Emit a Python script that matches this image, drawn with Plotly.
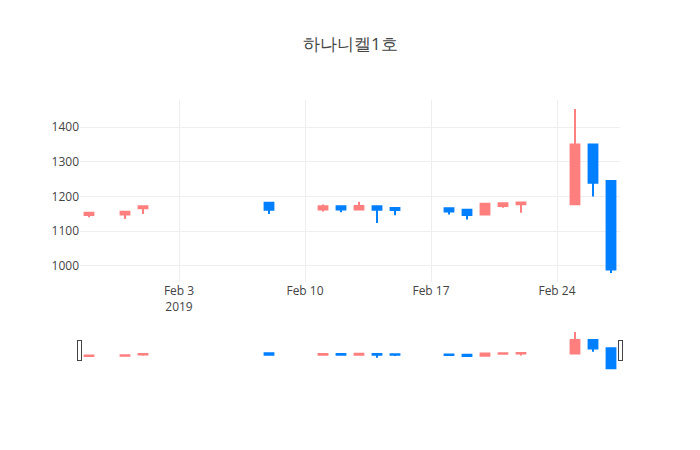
import plotly.graph_objects as go

dates = ["2019-01-29", "2019-01-31", "2019-02-01", "2019-02-08",
         "2019-02-11", "2019-02-12", "2019-02-13", "2019-02-14", "2019-02-15",
         "2019-02-18", "2019-02-19", "2019-02-20", "2019-02-21", "2019-02-22",
         "2019-02-25", "2019-02-26", "2019-02-27"]
open_ = [1147, 1148, 1166, 1182, 1163, 1172, 1163, 1172, 1167,
         1166, 1162, 1148, 1173, 1178, 1178, 1350, 1245]
high = [1153, 1159, 1172, 1182, 1177, 1172, 1185, 1172, 1167,
        1166, 1162, 1181, 1181, 1183, 1452, 1350, 1245]
low = [1140, 1135, 1150, 1150, 1157, 1155, 1162, 1124, 1146,
       1148, 1134, 1148, 1168, 1153, 1178, 1200, 980]
close = [1153, 1156, 1172, 1162, 1172, 1163, 1173, 1162, 1161,
         1157, 1147, 1179, 1181, 1183, 1350, 1240, 990]

up_color = "#ff7f7f"
down_color = "#007fff"

fig = go.Figure(go.Candlestick(
    x=dates, open=open_, high=high, low=low, close=close,
    increasing=dict(line=dict(color=up_color), fillcolor=up_color),
    decreasing=dict(line=dict(color=down_color), fillcolor=down_color),
))

# page body adds 8px, so pull margins in to line the plot up
fig.update_layout(
    template="none",
    title=dict(text="하나니켈1호", x=0.489, y=0.92, yanchor="middle"),
    width=700, height=450,
    margin=dict(l=72, r=88, t=92, b=88),
    showlegend=False,
    xaxis=dict(rangeslider=dict(visible=True)),
)

fig.write_html("out.html")
